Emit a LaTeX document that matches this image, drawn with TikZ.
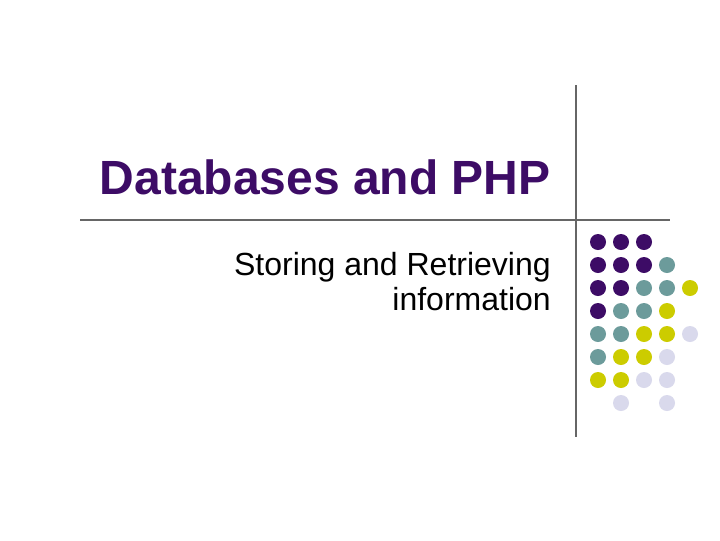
\documentclass[tikz,border=0pt]{standalone}
\usepackage{fontspec}
\setmainfont{Liberation Sans}
\definecolor{pp}{HTML}{3D0C66}
\definecolor{tl}{HTML}{6C9B9B}
\definecolor{yl}{HTML}{CCCC00}
\definecolor{lv}{HTML}{D9D9EC}
\begin{document}
\begin{tikzpicture}[x=0.75pt,y=-0.75pt,
  dot/.style={circle,inner sep=0pt,minimum size=12pt},
  rule/.style={draw=gray!80!black,line width=0.9pt}]
\useasboundingbox (0,0) rectangle (720,540);
\fill[white] (0,0) rectangle (720,540);
\coordinate (h1) at (80,220); \coordinate (h2) at (670,220);
\coordinate (v1) at (576,85); \coordinate (v2) at (576,437);
\draw[rule] (h1) -- (h2);
\draw[rule] (v1) -- (v2);
\node[anchor=base east,text=pp,font=\bfseries\fontsize{36}{40}\selectfont,inner sep=0pt] (title) at (551,194) {Databases and PHP};
\node[anchor=base east,align=right,font=\fontsize{24}{26}\selectfont,inner sep=0pt] (sub) at (551,310) {Storing and Retrieving\\information};
\foreach \r/\list in {0/{pp,pp,pp},1/{pp,pp,pp,tl},2/{pp,pp,tl,tl,yl},3/{pp,tl,tl,yl},4/{tl,tl,yl,yl,lv},5/{tl,yl,yl,lv},6/{yl,yl,lv,lv}}{
  \foreach \c [count=\i from 0] in \list {
    \node[dot,fill=\c] (d\r\i) at ({598+23*\i},{242+23*\r}) {};
  }
}
\node[dot,fill=lv] (d71) at (621,403) {};
\node[dot,fill=lv] (d73) at (667,403) {};
\end{tikzpicture}
\end{document}
